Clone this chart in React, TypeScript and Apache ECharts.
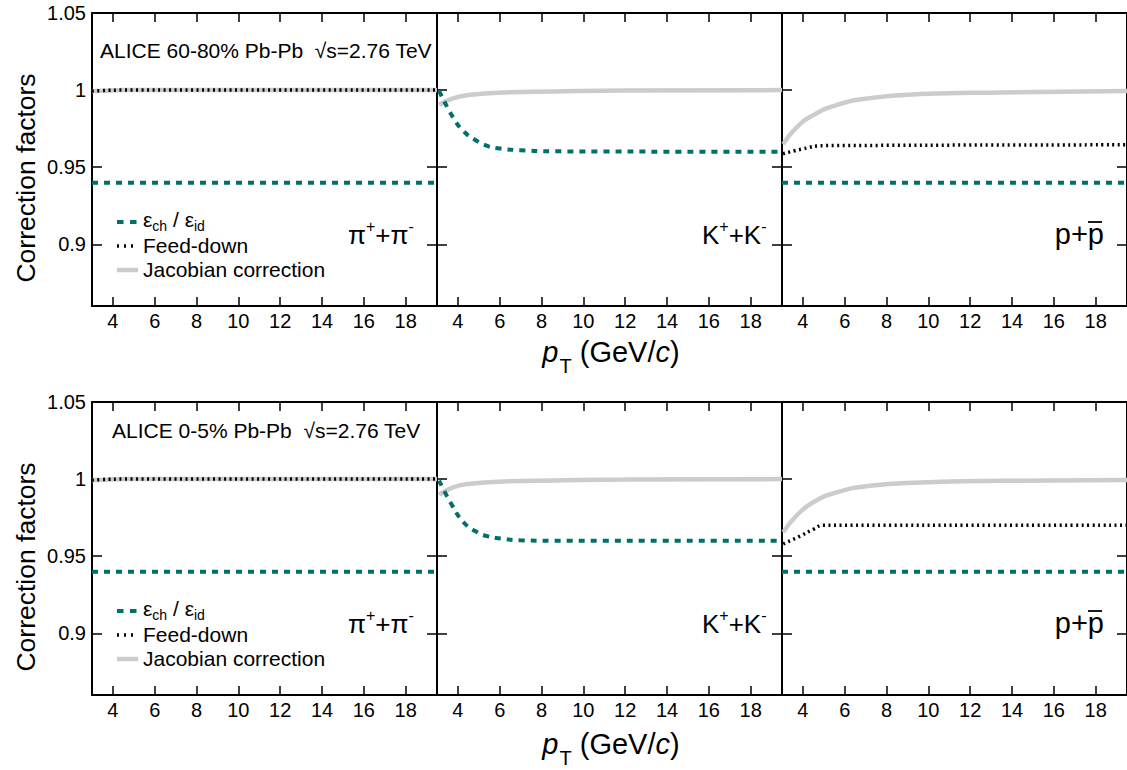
import React, { useEffect, useRef } from "react";
import * as echarts from "echarts";

// ---------- axes ----------
const xRange = [3, 19.5];
const yRange = [0.86, 1.05];
const xTicks = [4, 6, 8, 10, 12, 14, 16, 18];
const yTicks = [0.9, 0.95, 1, 1.05];
const yTickLabels = ["0.9", "0.95", "1", "1.05"];

const rowTitles = ["ALICE 60-80% Pb-Pb  √s=2.76 TeV", "ALICE 0-5% Pb-Pb  √s=2.76 TeV"];
const legendNames = ["ε_ch / ε_id", "Feed-down", "Jacobian correction"];

// ---------- 60-80% (top row) ----------
const flatX = [3, 19.5];
const pion60EffY = [0.94, 0.94];
const pion60FeedX = [3, 3.5, 4.5, 19.5];
const pion60FeedY = [0.9994, 0.9997, 1.0, 1.0];
const pion60JacX = [3, 3.5, 4.5, 19.5];
const pion60JacY = [0.9992, 0.9996, 1.0, 1.0];

const kaon60EffX = [3.1, 3.8, 4.3, 4.85, 5.4, 6.0, 7.0, 8.5, 19.5];
const kaon60EffY = [0.9995, 0.9816, 0.973, 0.9675, 0.9638, 0.9621, 0.961, 0.9603, 0.96];
const kaon60JacX = [3.1, 3.8, 4.6, 6.2, 8.6, 12, 19.5];
const kaon60JacY = [0.9905, 0.9948, 0.997, 0.9985, 0.9991, 0.9997, 1.0];

const proton60EffY = [0.94, 0.94];
const proton60FeedX = [3.05, 4.0, 5.0, 19.5];
const proton60FeedY = [0.9587, 0.9619, 0.964, 0.9645];
const proton60JacX = [3.06, 3.7, 4.5, 5.6, 7.2, 9.6, 13.5, 19.5];
const proton60JacY = [0.965, 0.9758, 0.9838, 0.9903, 0.9948, 0.9974, 0.9985, 0.9995];

// ---------- 0-5% (bottom row) ----------
const pion05EffY = [0.94, 0.94];
const pion05FeedX = [3, 3.5, 4.5, 19.5];
const pion05FeedY = [0.9994, 0.9997, 1.0, 1.0];
const pion05JacX = [3, 3.5, 4.5, 19.5];
const pion05JacY = [0.9992, 0.9996, 1.0, 1.0];

const kaon05EffX = [3.1, 3.7, 4.27, 4.83, 5.39, 6.02, 6.98, 8.5, 19.5];
const kaon05EffY = [0.999, 0.9835, 0.972, 0.9663, 0.963, 0.9615, 0.9603, 0.96, 0.96];
const kaon05JacX = [3.1, 3.8, 4.6, 6.2, 8.6, 12, 19.5];
const kaon05JacY = [0.99, 0.9948, 0.997, 0.9985, 0.9991, 0.9997, 1.0];

const proton05EffY = [0.94, 0.94];
const proton05FeedX = [3.06, 3.86, 4.49, 4.97, 19.5];
const proton05FeedY = [0.958, 0.963, 0.9674, 0.97, 0.97];
const proton05JacX = [3.06, 3.7, 4.49, 5.61, 7.2, 9.59, 13.55, 19.5];
const proton05JacY = [0.9656, 0.9764, 0.985, 0.9914, 0.9957, 0.9978, 0.9989, 0.9994];

const FONT = '"Liberation Sans", Arial, Helvetica, sans-serif';
const TEAL = "#00706b";
const GRAY = "#cccccc";

const pairs = (xs: number[], ys: number[]) => xs.map((x, i) => [x, ys[i]]);

const styles: Record<string, any> = {
  jac: { color: GRAY, width: 4.5, type: "solid", cap: "butt" },
  feed: { color: "#000", width: 3.5, type: [2, 3.5], cap: "butt" },
  eff: { color: TEAL, width: 4, type: [6, 6], cap: "butt" },
};

// panel curve lists: [kind, xs, ys]
const panelCurves: [string, number[], number[]][][] = [
  [["jac", pion60JacX, pion60JacY], ["feed", pion60FeedX, pion60FeedY], ["eff", flatX, pion60EffY]],
  [["jac", kaon60JacX, kaon60JacY], ["eff", kaon60EffX, kaon60EffY]],
  [["jac", proton60JacX, proton60JacY], ["feed", proton60FeedX, proton60FeedY], ["eff", flatX, proton60EffY]],
  [["jac", pion05JacX, pion05JacY], ["feed", pion05FeedX, pion05FeedY], ["eff", flatX, pion05EffY]],
  [["jac", kaon05JacX, kaon05JacY], ["eff", kaon05EffX, kaon05EffY]],
  [["jac", proton05JacX, proton05JacY], ["feed", proton05FeedX, proton05FeedY], ["eff", flatX, proton05EffY]],
];

export default function App() {
  const ref = useRef<HTMLDivElement>(null);

  useEffect(() => {
    if (!ref.current) return;
    const chart = echarts.init(ref.current, undefined, { renderer: "svg" });

    const rowTop = [13, 402];
    const rowH = 293;
    const colLeft = [92, 437, 782];
    const colW = 345;

    const grids: any[] = [];
    const xAxes: any[] = [];
    const yAxes: any[] = [];
    const series: any[] = [];

    const axisLine = { show: true, onZero: false, lineStyle: { color: "#000", width: 2 } };
    const tickStyle = { color: "#000", width: 1.5 };

    for (let r = 0; r < 2; r++) {
      for (let c = 0; c < 3; c++) {
        const g = r * 3 + c;
        grids.push({ left: colLeft[c], top: rowTop[r], width: colW + (c === 2 ? 1 : 0), height: rowH, containLabel: false });
        xAxes.push({
          gridIndex: g, type: "value", position: "bottom", min: xRange[0], max: xRange[1],
          axisLine, splitLine: { show: false },
          axisTick: { show: true, inside: true, length: 9, customValues: xTicks, lineStyle: tickStyle },
          axisLabel: { show: true, customValues: xTicks, color: "#000", fontSize: 20, fontFamily: FONT, margin: 5 },
        });
        xAxes.push({
          gridIndex: g, type: "value", position: "top", min: xRange[0], max: xRange[1],
          axisLine, splitLine: { show: false },
          axisTick: { show: true, inside: true, length: 9, customValues: xTicks, lineStyle: tickStyle },
          axisLabel: { show: false },
        });
        yAxes.push({
          gridIndex: g, type: "value", position: "left", min: yRange[0], max: yRange[1],
          axisLine, splitLine: { show: false },
          axisTick: { show: true, inside: true, length: 10, customValues: yTicks, lineStyle: tickStyle },
          axisLabel: {
            show: c === 0, customValues: yTicks, color: "#000", fontSize: 20, fontFamily: FONT, margin: 6,
            formatter: (v: number) => {
              let best = 0;
              yTicks.forEach((t, i) => { if (Math.abs(t - v) < Math.abs(yTicks[best] - v)) best = i; });
              return yTickLabels[best];
            },
          },
        });
        yAxes.push({
          gridIndex: g, type: "value", position: "right", min: yRange[0], max: yRange[1],
          axisLine, splitLine: { show: false },
          axisTick: { show: true, inside: true, length: 10, customValues: yTicks, lineStyle: tickStyle },
          axisLabel: { show: false },
        });
        panelCurves[g].forEach(([kind, xs, ys]) => {
          series.push({
            type: "line", name: kind, xAxisIndex: g * 2, yAxisIndex: g * 2,
            data: pairs(xs, ys), showSymbol: false, symbol: "none",
            smooth: xs.length > 2 ? 0.5 : false,
            lineStyle: styles[kind], silent: true, z: 2,
          });
        });
      }
    }

    const graphics: any[] = [];
    const mainTxt = (fs: number) => ({ fontSize: fs, fontFamily: FONT, fill: "#000", color: "#000" });

    for (let r = 0; r < 2; r++) {
      const dy = r === 0 ? 0 : 389;
      // y title
      graphics.push({
        type: "text", x: 26, y: 178 + dy, rotation: Math.PI / 2,
        style: { text: "Correction factors", ...mainTxt(26.5), align: "center", verticalAlign: "middle", textAlign: "center", textVerticalAlign: "middle" },
      });
      // x title
      graphics.push({
        type: "text", x: 611, y: (r === 0 ? 337 : 729),
        style: {
          text: "{i|p}{s|T}{n| (GeV/}{i|c}{n|)}",
          ...mainTxt(29), align: "center", verticalAlign: "top", textAlign: "center", textVerticalAlign: "top",
          rich: {
            i: { fontSize: 29, fontFamily: FONT, fontStyle: "italic", lineHeight: 32, verticalAlign: "top", color: "#000" },
            n: { fontSize: 29, fontFamily: FONT, lineHeight: 32, verticalAlign: "top", color: "#000" },
            s: { fontSize: 20, fontFamily: FONT, lineHeight: 20, padding: [19, 0, 0, 1], verticalAlign: "top", color: "#000" },
          },
        },
      });
      // ALICE label
      graphics.push({
        type: "text", x: r === 0 ? 100 : 112, y: r === 0 ? 50 : 430,
        style: { text: rowTitles[r], ...mainTxt(21), align: "left", verticalAlign: "middle", textAlign: "left", textVerticalAlign: "middle" },
      });
      // legend samples
      graphics.push({ type: "line", shape: { x1: 117, y1: 222 + dy, x2: 137, y2: 222 + dy }, style: { stroke: TEAL, lineWidth: 4, lineDash: [6.5, 6.5] } });
      graphics.push({ type: "line", shape: { x1: 117, y1: 246 + dy, x2: 137, y2: 246 + dy }, style: { stroke: "#000", lineWidth: 3.5, lineDash: [2, 5] } });
      graphics.push({ type: "line", shape: { x1: 117, y1: 270 + dy, x2: 138, y2: 270 + dy }, style: { stroke: GRAY, lineWidth: 4.5 } });
      // legend texts
      graphics.push({
        type: "text", x: 143, y: 208.5 + dy,
        style: {
          text: "{m|ε}{s|ch}{m| / ε}{s|id}",
          ...mainTxt(21), align: "left", verticalAlign: "top", textAlign: "left", textVerticalAlign: "top",
          rich: {
            m: { fontSize: 21, fontFamily: FONT, lineHeight: 21, verticalAlign: "top", color: "#000" },
            s: { fontSize: 14, fontFamily: FONT, lineHeight: 12, padding: [10, 0, 0, 0], verticalAlign: "top", color: "#000" },
          },
        },
      });
      graphics.push({
        type: "text", x: 143, y: 245.5 + dy,
        style: { text: legendNames[1], ...mainTxt(21), lineHeight: 20, align: "left", verticalAlign: "middle", textAlign: "left", textVerticalAlign: "middle" },
      });
      graphics.push({
        type: "text", x: 143, y: 269.5 + dy,
        style: { text: legendNames[2], ...mainTxt(21), lineHeight: 20, align: "left", verticalAlign: "middle", textAlign: "left", textVerticalAlign: "middle" },
      });
      // particle labels
      const supRich = {
        m: { fontSize: 26, fontFamily: FONT, lineHeight: 30, verticalAlign: "bottom", color: "#000" },
        u: { fontSize: 16, fontFamily: FONT, lineHeight: 16, verticalAlign: "top", color: "#000" },
        q: { fontSize: 29, fontFamily: FONT, lineHeight: 30, verticalAlign: "bottom", color: "#000" },
      };
      graphics.push({
        type: "text", x: 348, y: 218 + dy,
        style: { text: "{m|π}{u|+}{m|+π}{u|-}", ...mainTxt(26), align: "left", verticalAlign: "top", textAlign: "left", textVerticalAlign: "top", rich: supRich },
      });
      graphics.push({
        type: "text", x: 702, y: 218 + dy,
        style: { text: "{m|K}{u|+}{m|+K}{u|-}", ...mainTxt(26), align: "left", verticalAlign: "top", textAlign: "left", textVerticalAlign: "top", rich: supRich },
      });
      graphics.push({
        type: "text", x: 1104, y: 218 + dy,
        style: { text: "{q|p+p}", ...mainTxt(29), align: "right", verticalAlign: "top", textAlign: "right", textVerticalAlign: "top", rich: supRich },
      });
      graphics.push({ type: "line", shape: { x1: 1088, y1: 222 + dy, x2: 1102, y2: 222 + dy }, style: { stroke: "#000", lineWidth: 1.8 } });
    }

    chart.setOption({
      animation: false,
      backgroundColor: "#fff",
      textStyle: { fontFamily: FONT },
      grid: grids,
      xAxis: xAxes,
      yAxis: yAxes,
      series,
      graphic: { elements: graphics },
    });

    return () => chart.dispose();
  }, []);

  return <div ref={ref} style={{ position: "absolute", left: 0, top: 0, width: 1127, height: 770 }} />;
}
